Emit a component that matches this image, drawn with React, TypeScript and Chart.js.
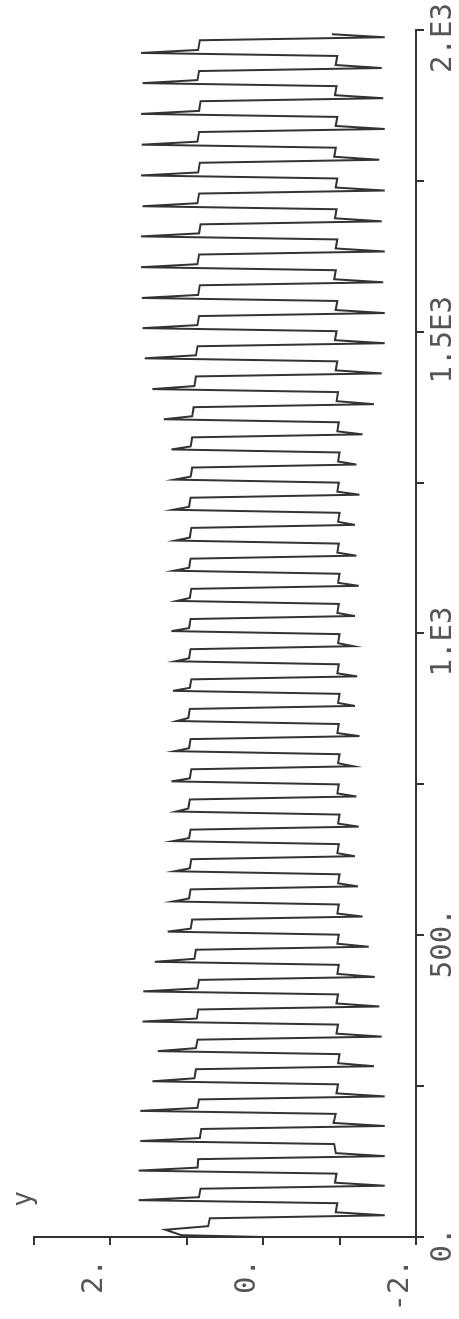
import React, { useEffect, useRef } from 'react';
import { Chart, registerables } from 'chart.js';

Chart.register(...registerables);

// time (x) of every sample
const times = [
  0, 3, 12, 18,
  31, 36, 41, 56, 61, 66,
  80, 85, 90, 105, 110, 115,
  129, 134, 139, 154, 159, 164,
  179, 184, 189, 204, 209, 214,
  228, 233, 238, 253, 258, 263,
  278, 283, 288, 303, 308, 313,
  327, 332, 337, 352, 357, 362,
  377, 382, 387, 402, 407, 412,
  426, 431, 436, 451, 456, 461,
  476, 481, 486, 501, 506, 511,
  526, 531, 536, 551, 556, 561,
  576, 581, 586, 601, 606, 611,
  626, 631, 636, 651, 656, 661,
  675, 680, 685, 700, 705, 710,
  725, 730, 735, 750, 755, 760,
  775, 780, 785, 800, 805, 810,
  825, 830, 835, 850, 855, 860,
  875, 880, 885, 900, 905, 910,
  924, 929, 934, 949, 954, 959,
  974, 979, 984, 999, 1004, 1009,
  1024, 1029, 1034, 1049, 1054, 1059,
  1074, 1079, 1084, 1099, 1104, 1109,
  1124, 1129, 1134, 1149, 1154, 1159,
  1175, 1180, 1185, 1200, 1205, 1210,
  1225, 1230, 1235, 1250, 1255, 1260,
  1275, 1280, 1285, 1300, 1305, 1310,
  1325, 1330, 1335, 1350, 1355, 1360,
  1375, 1380, 1385, 1400, 1405, 1410,
  1426, 1431, 1436, 1451, 1456, 1461,
  1476, 1481, 1486, 1501, 1506, 1511,
  1526, 1531, 1536, 1551, 1556, 1561,
  1577, 1582, 1587, 1602, 1607, 1612,
  1628, 1633, 1638, 1653, 1658, 1663,
  1678, 1683, 1688, 1703, 1708, 1713,
  1729, 1734, 1739, 1754, 1759, 1764,
  1780, 1785, 1790, 1805, 1810, 1815,
  1831, 1836, 1841, 1856, 1861, 1866,
  1882, 1887, 1892, 1907, 1912, 1917,
  1932, 1937, 1942, 1957, 1962, 1967,
  1983, 1988, 1993,
];

// y value of every sample
const yValues = [
  0.0, 1.07, 1.28, 0.72,
  0.7, -1.59, -0.95, -0.97, 1.63, 0.84,
  0.82, -1.59, -0.94, -0.96, 1.63, 0.86,
  0.85, -1.59, -0.95, -0.93, 1.61, 0.83,
  0.81, -1.59, -0.92, -0.95, 1.61, 0.86,
  0.84, -1.59, -0.96, -0.98, 1.45, 0.9,
  0.88, -1.45, -0.98, -1.0, 1.38, 0.88,
  0.86, -1.55, -0.96, -0.98, 1.58, 0.87,
  0.85, -1.52, -0.96, -0.98, 1.57, 0.86,
  0.84, -1.46, -0.97, -0.99, 1.42, 0.9,
  0.88, -1.38, -0.97, -0.99, 1.25, 0.95,
  0.93, -1.3, -0.97, -0.99, 1.18, 0.97,
  0.95, -1.24, -0.98, -1.0, 1.16, 0.96,
  0.94, -1.2, -0.97, -0.99, 1.18, 0.97,
  0.95, -1.25, -0.98, -1.0, 1.14, 0.98,
  0.96, -1.22, -0.97, -0.99, 1.2, 0.96,
  0.94, -1.18, -0.98, -1.0, 1.16, 0.97,
  0.95, -1.26, -0.97, -0.99, 1.13, 0.98,
  0.96, -1.2, -0.98, -1.0, 1.18, 0.96,
  0.94, -1.23, -0.97, -0.99, 1.15, 0.97,
  0.95, -1.18, -0.98, -1.0, 1.2, 0.97,
  0.95, -1.2, -0.97, -0.99, 1.13, 0.96,
  0.94, -1.25, -0.98, -1.0, 1.17, 0.97,
  0.95, -1.22, -0.97, -0.99, 1.15, 0.96,
  0.94, -1.2, -0.98, -1.0, 1.18, 0.97,
  0.95, -1.26, -0.97, -0.99, 1.16, 0.95,
  0.93, -1.22, -0.98, -1.0, 1.2, 0.95,
  0.93, -1.3, -0.97, -0.99, 1.3, 0.93,
  0.91, -1.45, -0.96, -0.98, 1.45, 0.9,
  0.88, -1.55, -0.95, -0.97, 1.55, 0.88,
  0.86, -1.59, -0.94, -0.96, 1.58, 0.86,
  0.84, -1.59, -0.95, -0.97, 1.59, 0.85,
  0.83, -1.57, -0.93, -0.95, 1.6, 0.86,
  0.84, -1.59, -0.95, -0.97, 1.6, 0.84,
  0.82, -1.55, -0.94, -0.96, 1.58, 0.86,
  0.84, -1.59, -0.95, -0.97, 1.6, 0.85,
  0.83, -1.52, -0.93, -0.95, 1.59, 0.86,
  0.84, -1.59, -0.95, -0.97, 1.6, 0.84,
  0.82, -1.57, -0.94, -0.96, 1.58, 0.86,
  0.84, -1.55, -0.95, -0.97, 1.6, 0.85,
  0.83, -1.59, -0.9,
];

const xTickValues = [0, 500, 1000, 1500, 2000];
const xTickLabels = ['0.', '500.', '1.E3', '1.5E3', '2.E3'];
const yTickValues = [-2, 0, 2];
const yTickLabels = ['-2.', '0.', '2.'];
const axisLabelY = 'y';

const CW = 1360;
const CH = 459;
const FONT = '"DejaVu Sans Mono", "Liberation Mono", monospace';

export default function App() {
  const ref = useRef<HTMLCanvasElement | null>(null);

  useEffect(() => {
    if (!ref.current) return;
    const points = times.map((t, i) => ({ x: t, y: yValues[i] }));
    const axisLabelPlugin = {
      id: 'axisLabel',
      afterDraw(chart: any) {
        const { ctx, chartArea } = chart;
        ctx.save();
        ctx.fillStyle = '#555';
        ctx.font = `26px ${FONT}`;
        ctx.textAlign = 'center';
        ctx.textBaseline = 'middle';
        ctx.fillText(axisLabelY, chartArea.left + 38, 24);
        ctx.restore();
      },
    };
    const chart = new Chart(ref.current, {
      type: 'line',
      data: {
        datasets: [
          {
            data: points,
            borderColor: '#333333',
            borderWidth: 2,
            pointRadius: 0,
            tension: 0,
            fill: false,
          },
        ],
      },
      options: {
        animation: false,
        responsive: false,
        devicePixelRatio: 1,
        layout: { padding: { left: 0, right: CW - 1289, top: 34, bottom: 0 } },
        plugins: { legend: { display: false }, tooltip: { enabled: false } },
        scales: {
          x: {
            type: 'linear',
            min: 0,
            max: 2000,
            afterFit: (s: any) => {
              s.height = 43;
            },
            afterBuildTicks: (s: any) => {
              s.ticks = [0, 250, 500, 750, 1000, 1250, 1500, 1750, 2000].map((v) => ({ value: v }));
            },
            ticks: {
              autoSkip: false,
              maxRotation: 0,
              padding: 2,
              labelOffset: -8,
              color: '#555',
              font: { family: FONT, size: 29 },
              callback: (v: any) => {
                const i = xTickValues.indexOf(Number(v));
                return i >= 0 ? xTickLabels[i] : '';
              },
            },
            grid: { display: true, drawOnChartArea: false, drawTicks: true, tickLength: 8, color: '#333', lineWidth: 2 },
            border: { display: true, color: '#333', width: 2 },
          },
          y: {
            type: 'linear',
            min: -2,
            max: 3,
            afterFit: (s: any) => {
              s.width = 82;
            },
            afterBuildTicks: (s: any) => {
              s.ticks = [-2, -1, 0, 1, 2, 3].map((v) => ({ value: v }));
            },
            ticks: {
              autoSkip: false,
              padding: 14,
              labelOffset: -16,
              color: '#555',
              font: { family: FONT, size: 29 },
              callback: (v: any) => {
                const i = yTickValues.indexOf(Number(v));
                return i >= 0 ? yTickLabels[i] : '';
              },
            },
            grid: { display: true, drawOnChartArea: false, drawTicks: true, tickLength: 8, color: '#333', lineWidth: 2 },
            border: { display: true, color: '#333', width: 2 },
          },
        },
      },
      plugins: [axisLabelPlugin],
    } as any);
    return () => chart.destroy();
  }, []);

  return (
    <div
      style={{
        position: 'fixed',
        left: 0,
        top: 0,
        width: 459,
        height: 1319,
        overflow: 'hidden',
        background: '#fff',
      }}
    >
      <div
        style={{
          position: 'absolute',
          left: 0,
          top: 0,
          width: CW,
          height: CH,
          transformOrigin: '0 0',
          transform: 'translateY(1319px) rotate(-90deg)',
        }}
      >
        <canvas ref={ref} width={CW} height={CH} style={{ display: 'block', width: CW, height: CH }} />
      </div>
    </div>
  );
}
